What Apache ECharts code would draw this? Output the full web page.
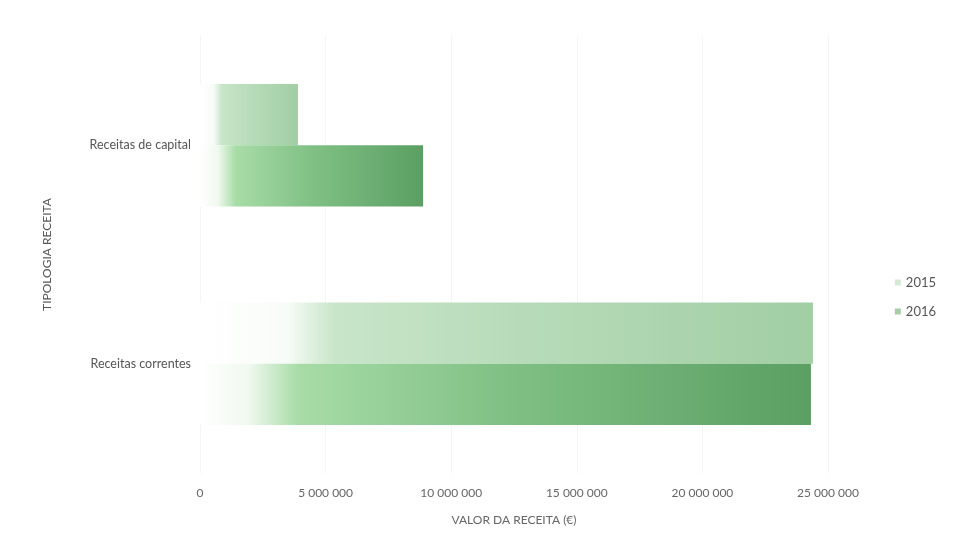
<!DOCTYPE html>
<html>
<head>
<meta charset="utf-8">
<script src="https://cdn.jsdelivr.net/npm/echarts@6/dist/echarts.min.js"></script>
<style>
html,body{margin:0;padding:0;background:#fff;}
#c{width:963px;height:551px;}
</style>
</head>
<body>
<div id="c"></div>
<script>
const categories = ['Receitas de capital', 'Receitas correntes'];
const seriesNames = ['2015', '2016'];
const values2015 = [3900000, 24400000];
const values2016 = [8880000, 24320000];
const xMin = 0, xMax = 25000000, xStep = 5000000;

function fmt(v){
  return String(v).replace(/\B(?=(\d{3})+(?!\d))/g, ' ');
}
function grad(stops){
  return new echarts.graphic.LinearGradient(0,0,1,0, stops.map(s=>({offset:s[0], color:s[1]})));
}
const g2015 = grad([[0,'#ffffff'],[0.14,'#f8fcf8'],[0.22,'#c8e5c9'],[0.6,'#b3d9b5'],[1,'#a1cea4']]);
const g2016 = grad([[0,'#ffffff'],[0.08,'#f0f9ef'],[0.16,'#a8dca7'],[0.5,'#80c085'],[1,'#5b9f63']]);

const chart = echarts.init(document.getElementById('c'));
chart.setOption({
  animation:false,
  textStyle:{fontFamily:'Lato, "Open Sans", sans-serif'},
  grid:{left:200, right:135, top:36, bottom:78},
  legend:{
    orient:'vertical', right:22, top:271, itemWidth:6, itemHeight:6, itemGap:16,
    icon:'rect',
    textStyle:{color:'#555', fontSize:13, fontFamily:'Lato, sans-serif'},
    data:[{name:'2015', itemStyle:{color:'#d5ead5'}},{name:'2016', itemStyle:{color:'#a9cdaa'}}]
  },
  xAxis:{
    type:'value', min:xMin, max:xMax, interval:xStep,
    axisLine:{show:false}, axisTick:{show:false},
    splitLine:{show:true, lineStyle:{color:'#f5f5f5'}},
    axisLabel:{color:'#666', fontSize:12, margin:14, formatter:fmt},
    name:'VALOR DA RECEITA (€)', nameLocation:'middle', nameGap:41,
    nameTextStyle:{color:'#666', fontSize:12}
  },
  yAxis:{
    type:'category', data:categories, inverse:true,
    axisLine:{show:false}, axisTick:{show:false},
    axisLabel:{color:'#555', fontSize:12.5, margin:9, padding:[0,0,6,0]},
    name:'TIPOLOGIA RECEITA', nameLocation:'middle', nameGap:147,
    nameTextStyle:{color:'#555', fontSize:12}
  },
  series:[
    {name:seriesNames[0], type:'bar', data:values2015, barGap:'0%', barCategoryGap:'44%',
     itemStyle:{color:g2015}},
    {name:seriesNames[1], type:'bar', data:values2016, barGap:'0%', barCategoryGap:'44%',
     itemStyle:{color:g2016}}
  ]
});
</script>
</body>
</html>
